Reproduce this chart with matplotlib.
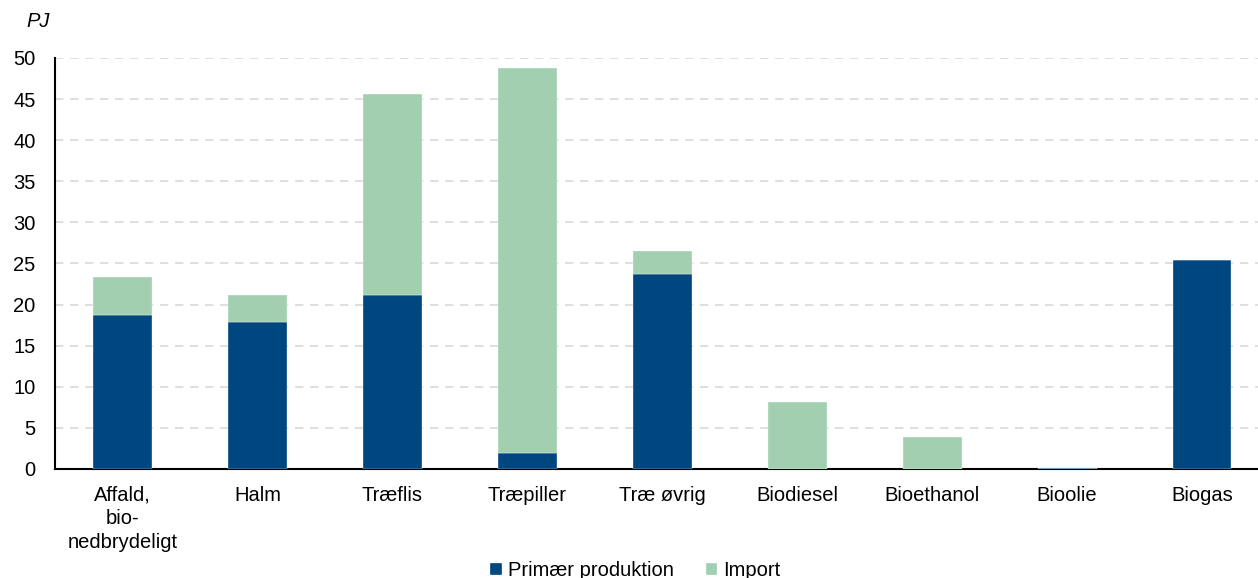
import numpy as np
import matplotlib.pyplot as plt

plt.rcParams['font.family'] = ['Liberation Sans', 'DejaVu Sans']

categories = ["Affald,\nbio-\nnedbrydeligt", "Halm", "Træflis", "Træpiller",
              "Træ øvrig", "Biodiesel", "Bioethanol", "Bioolie", "Biogas"]
primaer = [18.7, 17.9, 21.2, 1.95, 23.7, 0.0, 0.0, 0.15, 25.4]
importen = [4.7, 3.3, 24.4, 46.8, 2.8, 8.15, 3.9, 0.0, 0.0]

blue = "#00467f"
green = "#a1cfb0"
fs = 14.5

fig = plt.figure(figsize=(12.58, 5.78), dpi=100)
ax = fig.add_axes([0.0437, 0.1886, 0.9563, 0.7111])

x = np.arange(len(categories))
w = 0.437
ax.bar(x, primaer, w, color=blue, edgecolor="white", linewidth=0.25,
       label="Primær produktion", zorder=3)
ax.bar(x, importen, w, bottom=primaer, color=green, edgecolor="white",
       linewidth=0.25, label="Import", zorder=3)

ax.set_ylim(0, 50)
ax.set_xlim(-0.5, 8.415)
ax.set_yticks(np.arange(0, 51, 5))
ax.set_xticks(x)
ax.set_xticklabels(categories, fontsize=fs, linespacing=1.3)
ax.tick_params(axis="y", labelsize=fs, length=0, pad=14)
ax.tick_params(axis="x", length=0, pad=12)
ax.yaxis.grid(True, color="#d9d9d9", linestyle=(0, (5, 4)), linewidth=1.2, zorder=0)

for s in ["top", "right"]:
    ax.spines[s].set_visible(False)
ax.spines["left"].set_linewidth(1.5)
ax.spines["bottom"].set_linewidth(1.5)

fig.text(0.021, 0.953, "PJ", fontsize=fs, style="italic")

fig.legend(loc="lower center", bbox_to_anchor=(0.505, -0.035), ncol=2,
           frameon=False, fontsize=fs, handlelength=0.55, handleheight=0.55,
           handletextpad=0.3, columnspacing=1.6)

fig.savefig("out.png", dpi=100)
